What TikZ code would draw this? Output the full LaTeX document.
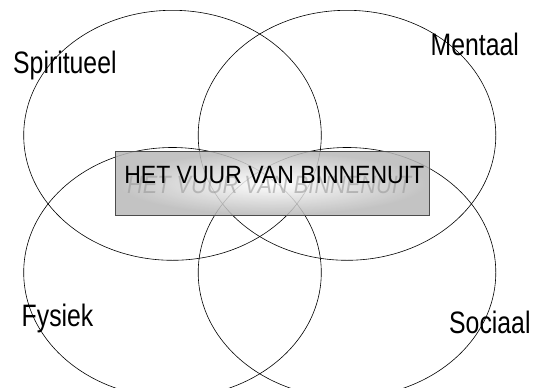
\documentclass[tikz,border=0pt]{standalone}
\usepackage{fontspec}
\usepackage{tikz}
\usetikzlibrary{shapes.geometric}
\setmainfont{Liberation Sans}
\newfontfamily\labelfont[FakeStretch=0.8]{Liberation Sans}
\newfontfamily\titlefont[FakeStretch=0.92]{Liberation Sans}
\newfontfamily\echofont[FakeStretch=0.87]{Liberation Sans}
\tikzset{
  ring/.style={draw=black,line width=0.6pt,ellipse,inner sep=0pt,
               minimum width=297.6pt,minimum height=250pt},
  lbl/.style={anchor=base west,inner sep=0pt,
              font=\labelfont\fontsize{31}{31}\selectfont},
  titlebox/.style={draw=black!70,line width=0.8pt,inner sep=0pt,
                   inner color=white,outer color=black!28,fill opacity=0.85,
                   minimum width=314pt,minimum height=63.3pt},
  title/.style={anchor=base,inner sep=0pt,
                font=\titlefont\fontsize{25}{25}\selectfont},
  echo/.style={anchor=base west,inner sep=0pt,text=black!40,text opacity=0.6,
               font=\echofont\itshape\fontsize{25}{25}\selectfont},
}
\begin{document}
\begin{tikzpicture}[x=1pt,y=-1pt]
\useasboundingbox (0,0) rectangle (533,388);
\clip (0,0) rectangle (533,388);

% ---------------------------------------------------------------- rings
\node[ring] (spir) at (172.5,135.3) {};
\node[ring] (ment) at (347,135.3) {};
\node[ring] (fys)  at (172.5,272.5) {};
\node[ring] (soc)  at (347,272.5) {};

% ---------------------------------------------------------------- labels
\node[lbl] (lspir) at (13,73)    {Spiritueel};
\node[lbl] (lment) at (430.5,55) {Mentaal};
\node[lbl] (lfys)  at (21.5,326) {Fysiek};
\node[lbl] (lsoc)  at (449,333)  {Sociaal};

% ---------------------------------------------------------------- centre
\node[titlebox] (vuur) at (272,183.4) {};
\node[echo] (vuurecho) at (127,193) {HET VUUR VAN BINNENUIT};
\node[title] (vuurtxt) at (274.3,183.3) {HET VUUR VAN BINNENUIT};

\end{tikzpicture}
\end{document}
